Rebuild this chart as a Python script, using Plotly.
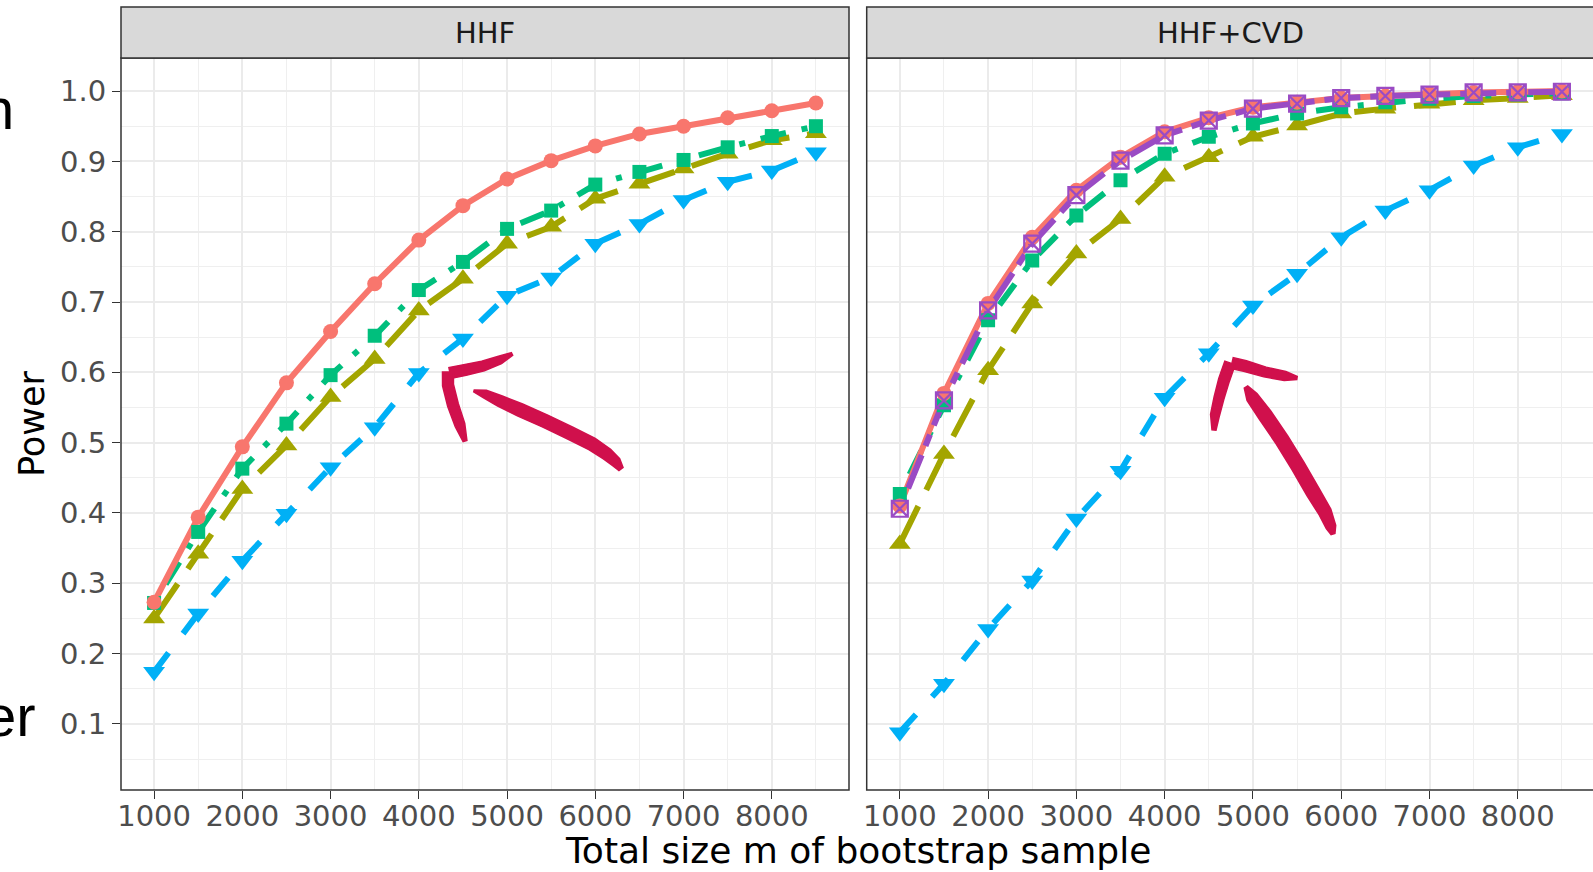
import math
import plotly.graph_objects as go

# ---------------- data ----------------
sizes = [1000, 1500, 2000, 2500, 3000, 3500, 4000, 4500,
         5000, 5500, 6000, 6500, 7000, 7500, 8000, 8500]

hhf_red = [0.273, 0.394, 0.494, 0.585, 0.658, 0.726, 0.788, 0.837,
           0.875, 0.901, 0.922, 0.939, 0.950, 0.962, 0.972, 0.983]
hhf_olive = [0.250, 0.342, 0.434, 0.496, 0.565, 0.619, 0.688, 0.733,
             0.783, 0.807, 0.847, 0.868, 0.890, 0.911, 0.930, 0.940]
hhf_green = [0.272, 0.373, 0.463, 0.527, 0.596, 0.652, 0.717, 0.757,
             0.804, 0.830, 0.867, 0.885, 0.902, 0.920, 0.936, 0.950]
hhf_blue = [0.174, 0.257, 0.332, 0.399, 0.465, 0.522, 0.599, 0.648,
            0.709, 0.735, 0.783, 0.811, 0.845, 0.871, 0.887, 0.913]

cvd_red = [0.410, 0.570, 0.698, 0.792, 0.859, 0.906, 0.942, 0.962,
           0.977, 0.984, 0.990, 0.993, 0.996, 0.998, 0.999, 1.000]
cvd_purple = [0.406, 0.560, 0.688, 0.783, 0.852, 0.901, 0.937, 0.958,
              0.975, 0.982, 0.990, 0.993, 0.995, 0.998, 0.998, 0.999]
cvd_green = [0.427, 0.553, 0.674, 0.759, 0.823, 0.873, 0.911, 0.935,
             0.954, 0.968, 0.977, 0.984, 0.989, 0.993, 0.995, 0.997]
cvd_olive = [0.356, 0.484, 0.603, 0.698, 0.769, 0.818, 0.878, 0.906,
             0.935, 0.951, 0.968, 0.975, 0.982, 0.987, 0.990, 0.994]
cvd_blue = [0.088, 0.157, 0.235, 0.304, 0.392, 0.460, 0.564, 0.627,
            0.695, 0.740, 0.792, 0.830, 0.859, 0.894, 0.920, 0.939]

panel_labels = ["HHF", "HHF+CVD"]
x_ticks = [1000, 2000, 3000, 4000, 5000, 6000, 7000, 8000]
x_tick_labels = ["1000", "2000", "3000", "4000", "5000", "6000", "7000", "8000"]
x_minor = [1500, 2500, 3500, 4500, 5500, 6500, 7500, 8500]
y_ticks = [0.1, 0.2, 0.3, 0.4, 0.5, 0.6, 0.7, 0.8, 0.9, 1.0]
y_tick_labels = ["0.1", "0.2", "0.3", "0.4", "0.5", "0.6", "0.7", "0.8", "0.9", "1.0"]
y_minor = [0.05, 0.15, 0.25, 0.35, 0.45, 0.55, 0.65, 0.75, 0.85, 0.95]

# ---------------- styles ----------------
RED, OLIVE, GREEN, BLUE, PURPLE = "#F8766D", "#A3A500", "#00BF7D", "#00B0F6", "#9A4BC4"
styles = {
    "red": dict(color=RED, dash="solid", symbol="circle", size=15),
    "olive": dict(color=OLIVE, dash="42px,18px", symbol="triangle-up", size=19),
    "green": dict(color=GREEN, dash="6px,16px,26px,16px", symbol="square", size=14),
    "blue": dict(color=BLUE, dash="24px,24px", symbol="triangle-down", size=19),
    "purple": dict(color=PURPLE, dash="12px,10px,36px,10px", symbol="square-x-open", size=16),
}

panels = [
    ("x", "y", [("olive", hhf_olive), ("green", hhf_green), ("blue", hhf_blue), ("red", hhf_red)]),
    ("x2", "y2", [("olive", cvd_olive), ("green", cvd_green), ("blue", cvd_blue),
                  ("red", cvd_red), ("purple", cvd_purple)]),
]

fig = go.Figure()
for xa, ya, series in panels:
    for key, vals in series:
        st = styles[key]
        fig.add_trace(go.Scatter(x=sizes, y=vals, xaxis=xa, yaxis=ya, mode="lines",
                                 line=dict(color=st["color"], width=6, dash=st["dash"]),
                                 showlegend=False, hoverinfo="skip"))
    for key, vals in series:
        st = styles[key]
        if st["symbol"].endswith("open"):
            mk = dict(symbol=st["symbol"], size=st["size"], color=st["color"],
                      line=dict(color=st["color"], width=2.2))
        else:
            mk = dict(symbol=st["symbol"], size=st["size"], color=st["color"],
                      line=dict(width=0))
        fig.add_trace(go.Scatter(x=sizes, y=vals, xaxis=xa, yaxis=ya, mode="markers",
                                 marker=mk, showlegend=False))

# ---------------- layout geometry ----------------
W, H = 1593, 872
ML, MR, MT, MB = 121, 0, 7, 82
PW, PH = W - ML - MR, H - MT - MB


def px(xp):
    return (xp - ML) / PW


def py(yp):
    return (H - MB - yp) / PH


panel_top = py(58)
left_dom = [0, px(849)]
right_dom = [px(866.7), 1]

grid_major = "#EBEBEB"
grid_minor = "#EFEFEF"
tickfont = dict(family="DejaVu Sans", size=29, color="#4D4D4D")

xcommon = dict(tickmode="array", tickvals=x_ticks, ticktext=x_tick_labels,
               ticks="outside", ticklen=8, tickwidth=1.4, tickcolor="#333333",
               tickfont=tickfont, ticklabelstandoff=-8,
               showgrid=True, gridcolor=grid_major, gridwidth=1.6,
               minor=dict(tickvals=x_minor, showgrid=True, gridcolor=grid_minor, gridwidth=1.3, ticks=""),
               zeroline=False, showline=False)
fig.update_layout(
    width=W, height=H,
    margin=dict(l=ML, r=MR, t=MT, b=MB, pad=0),
    paper_bgcolor="white", plot_bgcolor="white",
    font=dict(family="DejaVu Sans"),
    xaxis=dict(domain=left_dom, range=[625, 8875], anchor="y", **xcommon),
    xaxis2=dict(domain=right_dom, range=[625, 8852], anchor="y2", **xcommon),
    yaxis=dict(domain=[0, panel_top], range=[0.006, 1.047], anchor="x",
               tickmode="array", tickvals=y_ticks, ticktext=y_tick_labels,
               ticks="outside", ticklen=8, tickwidth=1.4, tickcolor="#333333",
               tickfont=tickfont, showgrid=True, gridcolor=grid_major, gridwidth=1.6,
               minor=dict(tickvals=y_minor, showgrid=True, gridcolor=grid_minor, gridwidth=1.3, ticks=""),
               zeroline=False, showline=False),
    yaxis2=dict(domain=[0, panel_top], range=[0.006, 1.047], anchor="x2",
                tickmode="array", tickvals=y_ticks, showticklabels=False, ticks="",
                showgrid=True, gridcolor=grid_major, gridwidth=1.6,
                minor=dict(tickvals=y_minor, showgrid=True, gridcolor=grid_minor, gridwidth=1.3, ticks=""),
                zeroline=False, showline=False),
)

shapes = []
border = dict(color="#333333", width=1.5)
for dom in (left_dom, [right_dom[0], 1.01]):
    shapes.append(dict(type="rect", xref="paper", yref="paper", x0=dom[0], x1=dom[1],
                       y0=0, y1=panel_top, line=border, fillcolor="rgba(0,0,0,0)", layer="above"))
    shapes.append(dict(type="rect", xref="paper", yref="paper", x0=dom[0], x1=dom[1],
                       y0=panel_top, y1=1, line=border, fillcolor="#D9D9D9", layer="above"))

# hand-drawn crimson arrows (decoration, drawn as tapered strokes in pixel space)
ARROW = "#D0104C"


def tapered(points, widths):
    left, right = [], []
    n = len(points)
    for i, (x, y) in enumerate(points):
        a = points[max(i - 1, 0)]
        b = points[min(i + 1, n - 1)]
        dx, dy = b[0] - a[0], b[1] - a[1]
        ln = math.hypot(dx, dy) or 1.0
        nx, ny = -dy / ln, dx / ln
        h = widths[i] / 2
        left.append((x + nx * h, y + ny * h))
        right.append((x - nx * h, y - ny * h))
    pts = left + right[::-1]
    s = "M {:.5f},{:.5f}".format(px(pts[0][0]), py(pts[0][1]))
    for a, b in pts[1:]:
        s += " L {:.5f},{:.5f}".format(px(a), py(b))
    return s + " Z"


arrow_parts = [
    # left arrow: shaft, upper arm, lower arm
    ([(474, 391), (485, 394), (500, 401), (520, 410), (545, 421), (570, 433),
      (592, 444), (607, 454), (616, 462), (621, 469)], [2, 8, 11, 13, 13, 13, 13, 12, 10, 5]),
    ([(512, 354), (500, 360), (483, 366), (465, 370), (450, 373)], [3, 8, 10, 11, 11]),
    ([(448, 372), (448, 385), (453, 405), (460, 425), (465, 441)], [11, 11, 11, 10, 4]),
    # right arrow
    ([(1246, 387), (1252, 397), (1265, 415), (1282, 440), (1298, 466),
      (1313, 492), (1325, 512), (1331, 527), (1333, 534)], [4, 12, 14, 14, 14, 14, 13, 10, 4]),
    ([(1297, 378), (1285, 376), (1265, 372), (1245, 366), (1232, 363)], [3, 9, 10, 11, 11]),
    ([(1230, 363), (1224, 380), (1219, 398), (1215, 415), (1214, 430)], [11, 11, 10, 9, 4]),
]
for pts, ws in arrow_parts:
    shapes.append(dict(type="path", xref="paper", yref="paper", path=tapered(pts, ws),
                       line=dict(color=ARROW, width=1.5), fillcolor=ARROW, layer="above"))
fig.update_layout(shapes=shapes)

ann = []
for lab, dom in zip(panel_labels, (left_dom, [right_dom[0], px(1595)])):
    ann.append(dict(text=lab, xref="paper", yref="paper", x=(dom[0] + dom[1]) / 2,
                    y=py(33), xanchor="center", yanchor="middle", showarrow=False,
                    font=dict(family="DejaVu Sans", size=29, color="#1A1A1A")))
ann.append(dict(text="Total size m of bootstrap sample", xref="paper", yref="paper",
                x=px(858), y=py(851), xanchor="center", yanchor="middle", showarrow=False,
                font=dict(family="DejaVu Sans", size=36, color="black")))
ann.append(dict(text="Power", xref="paper", yref="paper", x=px(32), y=py(424),
                xanchor="center", yanchor="middle", textangle=-90, showarrow=False,
                font=dict(family="DejaVu Sans", size=35, color="black")))
# cut-off text from the surrounding page
ann.append(dict(text="n", xref="paper", yref="paper", x=px(16), y=py(108),
                xanchor="right", yanchor="middle", showarrow=False,
                font=dict(family="Liberation Sans", size=58, color="black")))
ann.append(dict(text="er", xref="paper", yref="paper", x=px(38), y=py(715),
                xanchor="right", yanchor="middle", showarrow=False,
                font=dict(family="Liberation Sans", size=58, color="black")))
fig.update_layout(annotations=ann)

fig.write_html("out.html")
